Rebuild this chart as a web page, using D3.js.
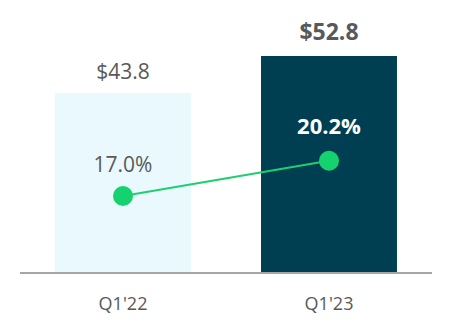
<!DOCTYPE html>
<html>
<head>
<meta charset="utf-8">
<script src="https://cdn.jsdelivr.net/npm/d3@7"></script>
<style>
  body { margin: 0; background: #fff; }
  svg { display: block; font-family: "Open Sans", sans-serif; }
</style>
</head>
<body>
<div id="chart"></div>
<script>
const quarters = ["Q1'22", "Q1'23"];
const revenue = [43.8, 52.8];
const margin = [17.0, 20.2];
const revenueLabels = ["$43.8", "$52.8"];
const marginLabels = ["17.0%", "20.2%"];

const width = 452;
const height = 332;
const baseY = 273;

const svg = d3.select("#chart").append("svg")
  .attr("width", width)
  .attr("height", height);

const x = d3.scaleBand()
  .domain(quarters)
  .range([20, 432])
  .paddingInner(0.34)
  .paddingOuter(0.17);

const y = d3.scaleLinear().domain([0, 52.8]).range([baseY, 56]);
const y2 = d3.scaleLinear().domain([10, 30]).range([baseY, 53]);

const barFill = ["#eaf9fe", "#003f52"];

svg.selectAll("rect.bar")
  .data(quarters)
  .join("rect")
  .attr("class", "bar")
  .attr("x", d => x(d))
  .attr("width", x.bandwidth())
  .attr("y", (d, i) => y(revenue[i]))
  .attr("height", (d, i) => baseY - y(revenue[i]))
  .attr("fill", (d, i) => barFill[i]);

// baseline
const xAxis = svg.append("g")
  .attr("transform", `translate(0,${baseY})`)
  .call(d3.axisBottom(x).tickSize(0).tickPadding(24));
xAxis.select(".domain").attr("stroke", "#a6a6a6").attr("stroke-width", 2)
  .attr("d", "M20,0H432");
xAxis.selectAll(".tick text")
  .attr("font-size", 18)
  .attr("font-family", "Open Sans, sans-serif")
  .attr("fill", "#595959");

// revenue labels
svg.selectAll("text.rev")
  .data(quarters)
  .join("text")
  .attr("class", "rev")
  .attr("x", d => x(d) + x.bandwidth() / 2)
  .attr("y", (d, i) => y(revenue[i]) - (i === 1 ? 16 : 14))
  .attr("text-anchor", "middle")
  .attr("font-size", (d, i) => i === 1 ? 23 : 21)
  .attr("font-weight", (d, i) => i === 1 ? 700 : 400)
  .attr("fill", "#595959")
  .text((d, i) => revenueLabels[i]);

// margin line
const cx = d => x(d) + x.bandwidth() / 2;
svg.append("path")
  .datum(quarters)
  .attr("fill", "none")
  .attr("stroke", "#1ecf70")
  .attr("stroke-width", 2)
  .attr("d", d3.line().x(d => cx(d)).y((d, i) => y2(margin[i])));

svg.selectAll("circle.pt")
  .data(quarters)
  .join("circle")
  .attr("class", "pt")
  .attr("cx", cx)
  .attr("cy", (d, i) => y2(margin[i]))
  .attr("r", 10)
  .attr("fill", "#14d36e");

svg.selectAll("text.mg")
  .data(quarters)
  .join("text")
  .attr("class", "mg")
  .attr("x", cx)
  .attr("y", (d, i) => y2(margin[i]) - (i === 1 ? 27 : 24))
  .attr("text-anchor", "middle")
  .attr("font-size", (d, i) => i === 1 ? 22 : 21)
  .attr("font-weight", (d, i) => i === 1 ? 700 : 400)
  .attr("fill", (d, i) => i === 1 ? "#ffffff" : "#595959")
  .text((d, i) => marginLabels[i]);
</script>
</body>
</html>
